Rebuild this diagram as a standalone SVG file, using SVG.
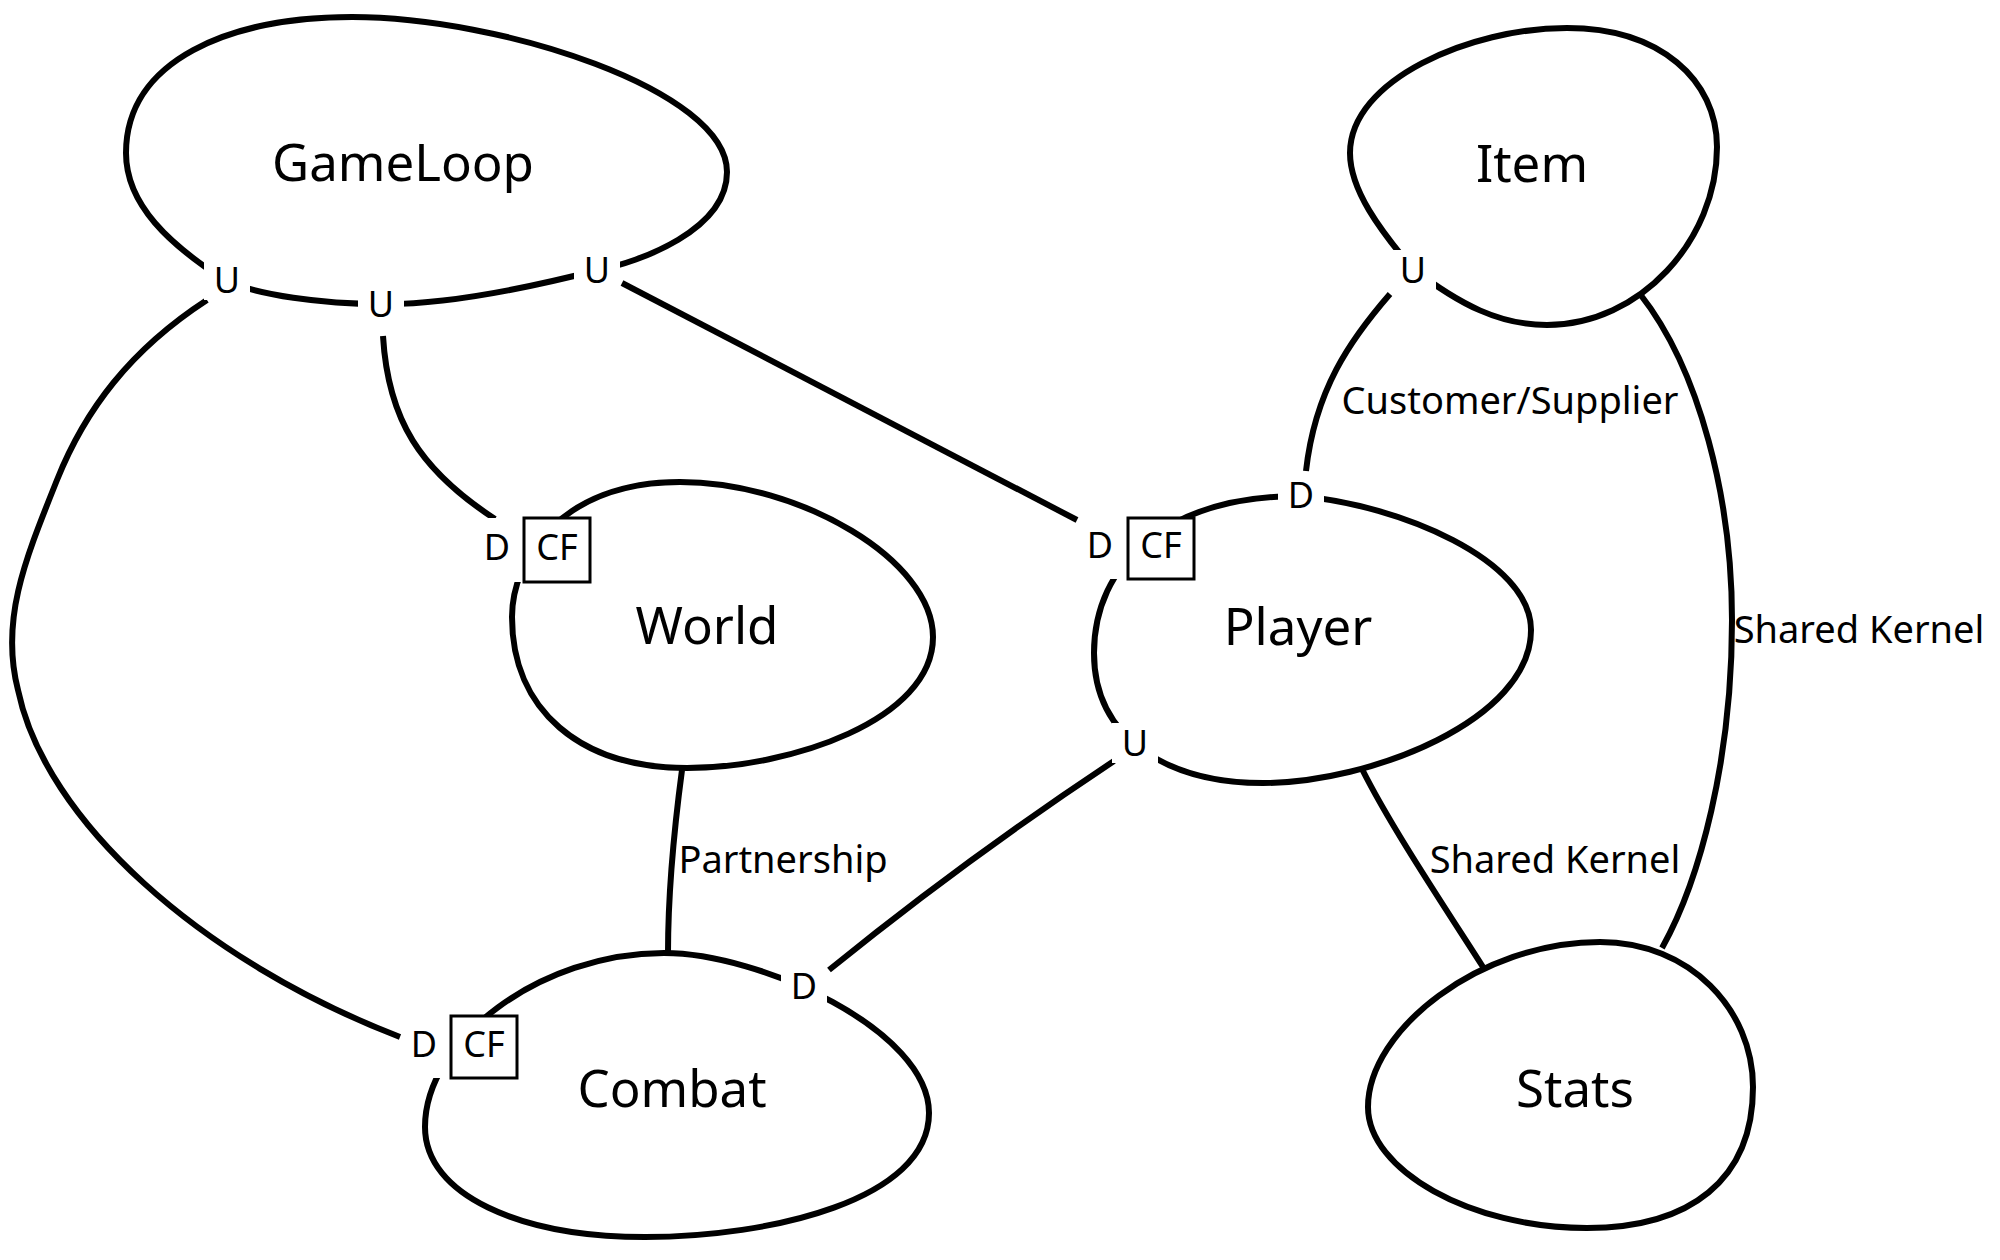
<svg xmlns="http://www.w3.org/2000/svg" width="2000" height="1260" viewBox="0 0 2000 1260">
<style>
.blob{fill:none;stroke:#000;stroke-width:6}
.conn{fill:none;stroke:#000;stroke-width:6}
.name{font-family:"Noto Sans","Open Sans",sans-serif;font-size:51px;text-anchor:middle;fill:#000}
.end{font-family:"Noto Sans","Open Sans",sans-serif;font-size:36px;text-anchor:middle;fill:#000}
.lbl{font-family:"Noto Sans","Open Sans",sans-serif;font-size:38px;text-anchor:middle;fill:#000}
.bg{fill:#fff;stroke:none}
.cf{fill:#fff;stroke:#000;stroke-width:3}
</style>
<rect width="2000" height="1260" fill="#fff"/>
<g id="nodes">
<g id="GameLoop">
<path class="blob" d="M 352,17 C 500,17 727,90 727,172 C 727,230 640,262 598,270 C 520,290 440,305 381,304 C 320,304 260,295 226,281 C 170,245 126,205 126,153 C 126,60 230,17 352,17 Z"/>
<text class="name" x="403" y="181">GameLoop</text>
</g>
<g id="World">
<path class="blob" d="M 680,482 C 800,482 933,560 933,637 C 933,720 790,768 687,768 C 580,768 512,710 512,617 C 512,560 560,482 680,482 Z"/>
<text class="name" x="707" y="644">World</text>
</g>
<g id="Player">
<path class="blob" d="M 1300,496 C 1400,505 1531,560 1531,630 C 1531,720 1370,783 1263,783 C 1170,783 1094,740 1094,653 C 1094,565 1165,496 1300,496 Z"/>
<text class="name" x="1298" y="645">Player</text>
</g>
<g id="Combat">
<path class="blob" d="M 664,953 C 760,953 929,1030 929,1113 C 929,1200 770,1237 645,1237 C 520,1237 425,1195 425,1127 C 425,1040 540,953 664,953 Z"/>
<text class="name" x="672" y="1107">Combat</text>
</g>
<g id="Item">
<path class="blob" d="M 1567,28 C 1660,28 1717,80 1717,147 C 1717,240 1640,325 1547,325 C 1500,325 1460,305 1412,268 C 1380,230 1350,190 1350,153 C 1350,80 1470,28 1567,28 Z"/>
<text class="name" x="1532" y="182">Item</text>
</g>
<g id="Stats">
<path class="blob" d="M 1600,942 C 1690,942 1753,1010 1753,1087 C 1753,1180 1690,1228 1587,1228 C 1470,1228 1368,1170 1368,1107 C 1368,1030 1480,942 1600,942 Z"/>
<text class="name" x="1575" y="1107">Stats</text>
</g>
</g>
<g id="connectors">
<g id="gameloop-combat">
<path class="conn" d="M 207,300 C 130,350 85,410 57,480 C 25,560 0,620 18,690 C 45,820 200,960 400,1037"/>
</g>
<g id="gameloop-world">
<path class="conn" d="M 383,336 C 388,420 420,470 495,519"/>
</g>
<g id="gameloop-player">
<path class="conn" d="M 622,283 L 1077,520"/>
</g>
<g id="item-player">
<path class="conn" d="M 1390,294 C 1350,340 1315,390 1306,471"/>
<text class="lbl" x="1510" y="414">Customer/Supplier</text>
</g>
<g id="item-stats">
<path class="conn" d="M 1640,294 C 1700,370 1732,500 1732,620 C 1732,760 1700,880 1662,948"/>
<text class="lbl" x="1859" y="643">Shared Kernel</text>
</g>
<g id="player-stats">
<path class="conn" d="M 1362,769 C 1390,825 1440,900 1483,967"/>
<text class="lbl" x="1555" y="873">Shared Kernel</text>
</g>
<g id="world-combat">
<path class="conn" d="M 682,770 C 674,830 668,890 668,953"/>
<text class="lbl" x="783" y="873">Partnership</text>
</g>
<g id="player-combat">
<path class="conn" d="M 1114,761 C 1040,810 940,880 829,970"/>
</g>
<g id="ends">
<rect class="bg" x="204" y="260" width="46" height="40"/>
<text class="end" x="227" y="293">U</text>
<rect class="bg" x="358" y="283" width="46" height="40"/>
<text class="end" x="381" y="317">U</text>
<rect class="bg" x="574" y="250" width="46" height="40"/>
<text class="end" x="597" y="283">U</text>
<rect class="bg" x="478" y="518" width="112" height="64"/>
<rect class="cf" x="524" y="518" width="66" height="64"/>
<text class="end" x="497" y="560">D</text>
<text class="end" x="557" y="560">CF</text>
<rect class="bg" x="1079" y="518" width="115" height="61"/>
<rect class="cf" x="1128" y="518" width="66" height="61"/>
<text class="end" x="1100" y="558">D</text>
<text class="end" x="1161" y="558">CF</text>
<rect class="bg" x="1278" y="475" width="46" height="40"/>
<text class="end" x="1301" y="508">D</text>
<rect class="bg" x="1112" y="723" width="46" height="40"/>
<text class="end" x="1135" y="756">U</text>
<rect class="bg" x="403" y="1016" width="114" height="62"/>
<rect class="cf" x="451" y="1016" width="66" height="62"/>
<text class="end" x="424" y="1057">D</text>
<text class="end" x="484" y="1057">CF</text>
<rect class="bg" x="781" y="966" width="46" height="40"/>
<text class="end" x="804" y="999">D</text>
<rect class="bg" x="1390" y="250" width="46" height="40"/>
<text class="end" x="1413" y="283">U</text>
</g>
</g>
</svg>
